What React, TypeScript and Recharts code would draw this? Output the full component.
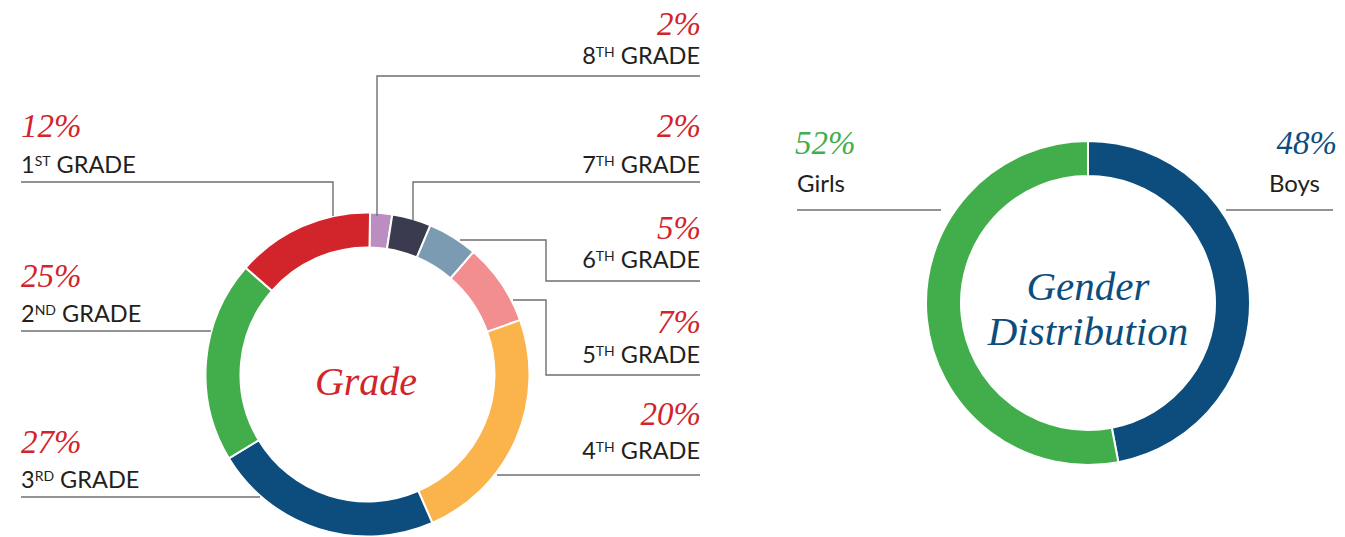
import React from 'react';
import { PieChart, Pie, Cell } from 'recharts';

// grade donut, clockwise from 12 o'clock
const gradeNumbers = ['8', '7', '6', '5', '4', '3', '2', '1'];
const gradeSuffixes = ['TH', 'TH', 'TH', 'TH', 'TH', 'RD', 'ND', 'ST'];
const gradePercentLabels = ['2%', '2%', '5%', '7%', '20%', '27%', '25%', '12%'];
// arc sizes as drawn in the picture
const gradeShares = [2.2, 3.9, 5.0, 8.2, 23.9, 22.9, 20.1, 13.8];
const gradeColors = ['#BC8DC0', '#3B3B4F', '#7B9BB3', '#F28E90', '#FBB44C', '#0C4D7E', '#42AE4B', '#D2242B'];

// gender donut, clockwise from 12 o'clock
const genderNames = ['Boys', 'Girls'];
const genderPercentLabels = ['48%', '52%'];
const genderShares = [47, 53];
const genderColors = ['#0C4D7E', '#42AE4B'];

const gradeData = gradeNumbers.map((n, i) => ({ name: n + gradeSuffixes[i], value: gradeShares[i] }));
const genderData = genderNames.map((n, i) => ({ name: n, value: genderShares[i] }));

const RED = '#D2242B';
const INK = '#231F20';
const LINE = '#6f6f6f';
const pctFont = '"Liberation Serif", "DejaVu Serif", serif';
const labelFont = 'Lato, "Open Sans", sans-serif';

// label placement per grade (same order as data)
const gradeLayout = [
  { x: 700, anchor: 'end', pctY: 35, nameY: 64, path: '377,216 377,76 700,76' },
  { x: 700, anchor: 'end', pctY: 137, nameY: 173, path: '413,220 413,182 700,182' },
  { x: 700, anchor: 'end', pctY: 239, nameY: 268, path: '460,240 546,240 546,281 700,281' },
  { x: 700, anchor: 'end', pctY: 333, nameY: 363, path: '513,300 546,300 546,375 700,375' },
  { x: 700, anchor: 'end', pctY: 425, nameY: 459, path: '497,475 700,475' },
  { x: 21, anchor: 'start', pctY: 453, nameY: 488, path: '21,497 260,497' },
  { x: 21, anchor: 'start', pctY: 287, nameY: 322, path: '21,331 211,331' },
  { x: 21, anchor: 'start', pctY: 137, nameY: 173, path: '21,182 333,182 333,216' },
];

const genderLayout = [
  { pctX: 1337, nameX: 1320, anchor: 'end', path: '1226,210 1333,210' },
  { pctX: 795, nameX: 797, anchor: 'start', path: '797,210 941,210' },
];

const Overlay = () => (
  <svg width={1345} height={537} style={{ position: 'absolute', left: 0, top: 0, pointerEvents: 'none' }}>
    {gradeLayout.map((l, i) => (
      <g key={i}>
        <polyline points={l.path} fill="none" stroke={LINE} strokeWidth={1.4} />
        <text x={l.anchor === 'end' ? l.x + 1 : l.x} y={l.pctY} textAnchor={l.anchor as any}
          fontFamily={pctFont} fontStyle="italic" fontSize={33} fill={RED}>
          {gradePercentLabels[i]}
        </text>
        <text x={l.x} y={l.nameY} textAnchor={l.anchor as any} fontFamily={labelFont} fontSize={23.5} fill={INK}>
          <tspan>{gradeNumbers[i]}</tspan>
          <tspan fontSize={14} dy={-7}>{gradeSuffixes[i]}</tspan>
          <tspan dy={7}>{' GRADE'}</tspan>
        </text>
      </g>
    ))}
    <text x={366} y={395} textAnchor="middle" fontFamily={pctFont} fontStyle="italic" fontSize={40} fill={RED}>
      Grade
    </text>

    {genderLayout.map((l, i) => (
      <g key={i}>
        <polyline points={l.path} fill="none" stroke={LINE} strokeWidth={1.4} />
        <text x={l.pctX} y={154} textAnchor={l.anchor as any} fontFamily={pctFont} fontStyle="italic"
          fontSize={33} fill={genderColors[i]}>
          {genderPercentLabels[i]}
        </text>
        <text x={l.nameX} y={192} textAnchor={l.anchor as any} fontFamily={labelFont} fontSize={24} fill={INK}>
          {genderNames[i]}
        </text>
      </g>
    ))}
    <text x={1088} y={300} textAnchor="middle" fontFamily={pctFont} fontStyle="italic" fontSize={41} fill="#0C4D7E">
      Gender
    </text>
    <text x={1088} y={345} textAnchor="middle" fontFamily={pctFont} fontStyle="italic" fontSize={41} fill="#0C4D7E">
      Distribution
    </text>
  </svg>
);

export default function App() {
  return (
    <div style={{ position: 'absolute', left: 0, top: 0, width: 1345, height: 537, background: '#fff' }}>
      <PieChart width={1345} height={537} margin={{ top: 0, right: 0, bottom: 0, left: 0 }}>
        <Pie
          data={gradeData}
          dataKey="value"
          cx={367.5}
          cy={374.5}
          innerRadius={127}
          outerRadius={162}
          startAngle={89.1}
          endAngle={-270.9}
          stroke="#fff"
          strokeWidth={2}
          isAnimationActive={false}
        >
          {gradeData.map((d, i) => (
            <Cell key={d.name} fill={gradeColors[i]} />
          ))}
        </Pie>
        <Pie
          data={genderData}
          dataKey="value"
          cx={1088}
          cy={303}
          innerRadius={127}
          outerRadius={162}
          startAngle={90}
          endAngle={-270}
          stroke="#fff"
          strokeWidth={2}
          isAnimationActive={false}
        >
          {genderData.map((d, i) => (
            <Cell key={d.name} fill={genderColors[i]} />
          ))}
        </Pie>
      </PieChart>
      <Overlay />
    </div>
  );
}
